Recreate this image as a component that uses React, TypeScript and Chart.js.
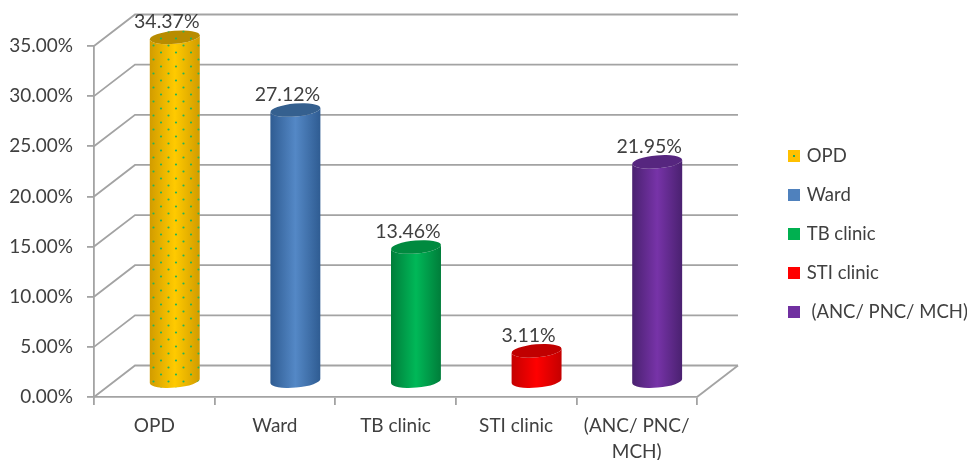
import React, { useEffect, useRef } from "react";
import { Chart, registerables } from "chart.js";

Chart.register(...registerables);

const categories = ["OPD", "Ward", "TB clinic", "STI clinic", "(ANC/ PNC/ MCH)"];
const axisLabels: (string | string[])[] = ["OPD", "Ward", "TB clinic", "STI clinic", ["(ANC/ PNC/", "MCH)"]];
const legendLabels = ["OPD", "Ward", "TB clinic", "STI clinic", " (ANC/ PNC/ MCH)"];
const values = [34.37, 27.12, 13.46, 3.11, 21.95];
const edgeColors = ["#d29c00", "#2f5c92", "#007d3a", "#c40000", "#4a2170"];
const midColors = ["#ffca00", "#5488c6", "#00b858", "#ff0000", "#7733a8"];
const topColors = ["#b88c00", "#35608f", "#008a3f", "#c00000", "#56267f"];
const legendColors = ["#ffc000", "#4f81bd", "#00b050", "#ff0000", "#7030a0"];

const FONT = "Lato, sans-serif";
const TEXT = "#404040";
const GRID = "#a3a3a3";
const DEPTH_X = 41;
const DEPTH_Y = 31.5;

function dotPattern(ctx: CanvasRenderingContext2D) {
  const c = document.createElement("canvas");
  c.width = 15;
  c.height = 14;
  const g = c.getContext("2d")!;
  g.fillStyle = "#22b45a";
  g.beginPath();
  g.arc(3.5, 3.5, 1.1, 0, Math.PI * 2);
  g.arc(11, 10.5, 1.1, 0, Math.PI * 2);
  g.fill();
  return ctx.createPattern(c, "repeat")!;
}

function legendSwatch(color: string, dotted: boolean) {
  const c = document.createElement("canvas");
  c.width = 12;
  c.height = 12;
  const g = c.getContext("2d")!;
  g.fillStyle = color;
  g.fillRect(0, 0, 12, 12);
  if (dotted) {
    g.fillStyle = "#1fa85a";
    g.fillRect(5, 5, 2, 2);
  }
  return c;
}

const threeD = {
  id: "threeD",
  beforeLayout(chart: any) {
    const lg = chart.legend;
    if (lg && !lg.__patched) {
      const fit = lg.fit;
      lg.fit = function () {
        fit.call(this);
        this.width = 270;
      };
      lg.__patched = true;
    }
  },
  afterLayout(chart: any) {
    const lg = chart.legend;
    lg.left = 790.5 - lg.options.labels.padding;
    lg.top -= 19;
    lg.bottom -= 19;
  },
  beforeDatasetsDraw(chart: any) {
    const { ctx, chartArea: a } = chart;
    const y = chart.scales.y;
    ctx.save();
    ctx.strokeStyle = GRID;
    ctx.lineWidth = 1.8;
    y.ticks.forEach((t: any) => {
      const py = y.getPixelForValue(t.value);
      ctx.beginPath();
      ctx.moveTo(a.left, py);
      ctx.lineTo(a.left + DEPTH_X, py - DEPTH_Y);
      ctx.lineTo(a.right + DEPTH_X, py - DEPTH_Y);
      ctx.stroke();
    });
    ctx.beginPath();
    ctx.moveTo(a.right, a.bottom);
    ctx.lineTo(a.right + DEPTH_X, a.bottom - DEPTH_Y);
    ctx.stroke();
    ctx.restore();
  },
  afterDatasetsDraw(chart: any) {
    const { ctx } = chart;
    const bars = chart.getDatasetMeta(0).data;
    const pattern = dotPattern(ctx);
    const tilt = (-5 * Math.PI) / 180;
    const ry = 6.5;
    bars.forEach((bar: any, i: number) => {
      const cx = bar.x + DEPTH_X / 2;
      const rx = bar.width / 2;
      const top = bar.y - 15;
      const bottom = bar.base - 15;
      const dy = rx * Math.sin(tilt);
      const body = new Path2D();
      body.moveTo(cx - rx, top - dy);
      body.lineTo(cx - rx, bottom - dy);
      body.ellipse(cx, bottom, rx, ry, tilt, Math.PI, 0, true);
      body.lineTo(cx + rx, top + dy);
      body.ellipse(cx, top, rx, ry, tilt, 0, Math.PI, false);
      body.closePath();
      const grad = ctx.createLinearGradient(cx - rx, 0, cx + rx, 0);
      grad.addColorStop(0, edgeColors[i]);
      grad.addColorStop(0.5, midColors[i]);
      grad.addColorStop(1, edgeColors[i]);
      ctx.save();
      ctx.fillStyle = grad;
      ctx.fill(body);
      if (i === 0) {
        ctx.fillStyle = pattern;
        ctx.fill(body);
      }
      const cap = new Path2D();
      cap.ellipse(cx, top, rx, ry, tilt, 0, Math.PI * 2);
      ctx.fillStyle = topColors[i];
      ctx.fill(cap);
      if (i === 0) {
        ctx.fillStyle = pattern;
        ctx.fill(cap);
      }
      ctx.fillStyle = TEXT;
      ctx.font = `19.5px ${FONT}`;
      ctx.textAlign = "center";
      ctx.textBaseline = "middle";
      ctx.fillText(`${values[i].toFixed(2)}%`, cx - 8, top - 15.5);
      ctx.restore();
    });
  },
};

export default function App() {
  const ref = useRef<HTMLCanvasElement>(null);
  useEffect(() => {
    const chart = new Chart(ref.current!, {
      type: "bar",
      data: {
        labels: axisLabels as any,
        datasets: [
          {
            label: "Share",
            data: values,
            backgroundColor: "rgba(0,0,0,0)",
            barThickness: 50,
          },
        ],
      },
      plugins: [threeD],
      options: {
        animation: false,
        responsive: false,
        layout: { padding: { top: 46, left: 0, right: 0, bottom: 0 } },
        plugins: {
          tooltip: { enabled: false },
          legend: {
            position: "right",
            onClick: () => {},
            labels: {
              font: { family: FONT, size: 18.5 },
              color: TEXT,
              padding: 20.5,
              usePointStyle: true,
              boxWidth: 7,
              boxHeight: 7,
              generateLabels: () =>
                categories.map((_, i) => ({
                  text: legendLabels[i],
                  fillStyle: legendColors[i],
                  strokeStyle: legendColors[i],
                  lineWidth: 0,
                  pointStyle: legendSwatch(legendColors[i], i === 0),
                  hidden: false,
                  index: i,
                  fontColor: TEXT,
                })),
            },
          },
        },
        scales: {
          x: {
            afterFit: (s: any) => {
              s.height = 63;
            },
            grid: { drawOnChartArea: false, tickLength: 8, color: GRID, lineWidth: 1.8 },
            border: { color: GRID, width: 1.8 },
            ticks: {
              autoSkip: false,
              maxRotation: 0,
              minRotation: 0,
              padding: 8,
              color: TEXT,
              font: { family: FONT, size: 19, lineHeight: 1.38 },
            },
          },
          y: {
            min: 0,
            max: 35,
            afterFit: (s: any) => {
              s.width = 94;
            },
            grid: { drawOnChartArea: false, tickLength: 7, color: GRID, lineWidth: 1.8 },
            border: { color: GRID, width: 1.8 },
            ticks: {
              stepSize: 5,
              padding: 14,
              color: TEXT,
              font: { family: FONT, size: 19 },
              callback: (v: any) => `${Number(v).toFixed(2)}%`,
            },
          },
        },
      },
    } as any);
    return () => chart.destroy();
  }, []);
  return (
    <div style={{ position: "absolute", left: 0, top: 0, width: 967, height: 460, background: "#fff" }}>
      <canvas ref={ref} width={967} height={460} style={{ display: "block" }} />
    </div>
  );
}
